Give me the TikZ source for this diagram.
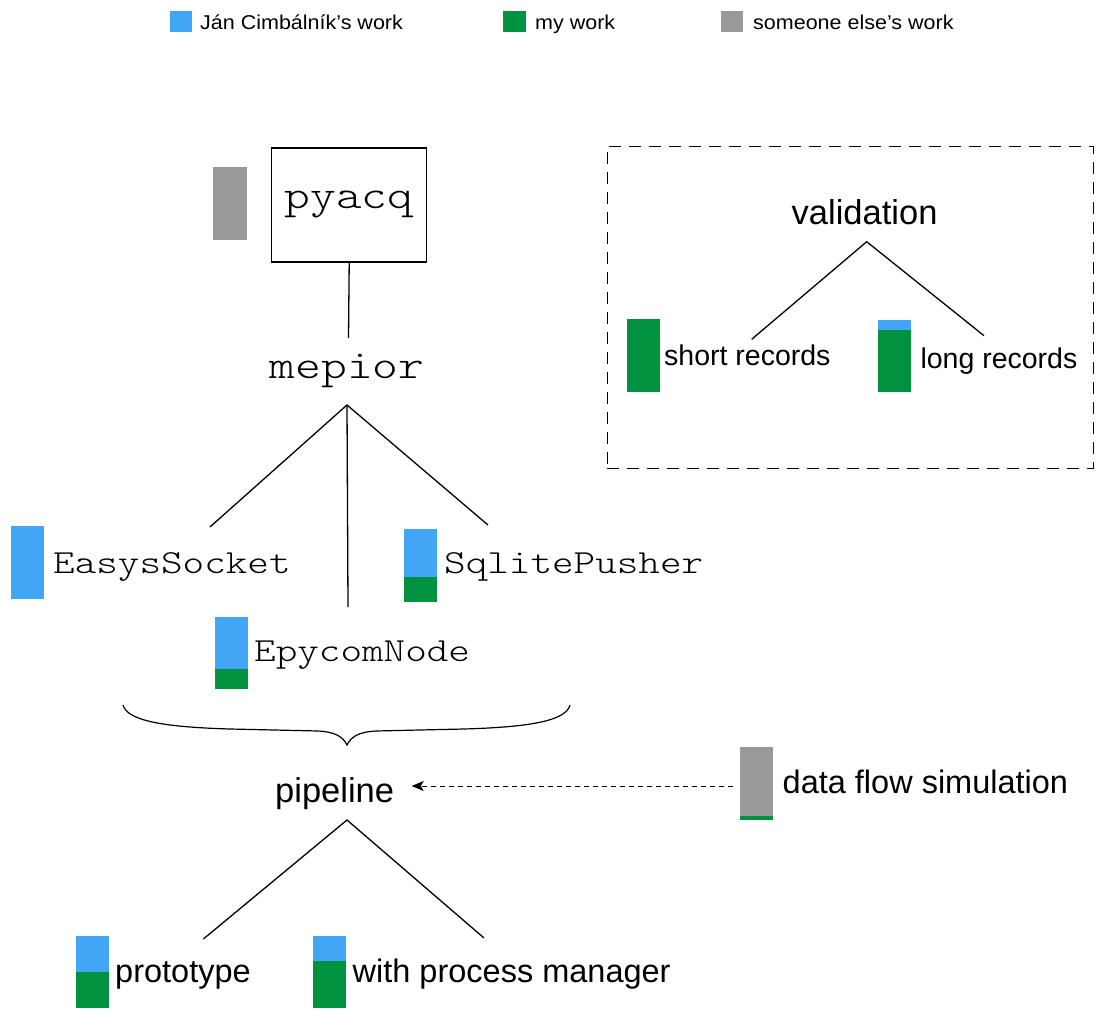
\documentclass[tikz,border=0pt]{standalone}
\usepackage{fontspec}
\setmainfont{Liberation Sans}
\setmonofont{Latin Modern Mono Light}[FakeStretch=1.22]
\usetikzlibrary{arrows.meta}

\definecolor{jcblue}{RGB}{66,165,245}
\definecolor{mygreen}{RGB}{0,146,63}
\definecolor{othergray}{RGB}{153,153,153}

\tikzset{
  treeline/.style={draw=black, line width=1.3pt},
  lbl/.style={inner sep=0pt, anchor=base west},
  legendtext/.style={lbl, font=\fontsize{21.5}{24}\selectfont},
  codebig/.style={inner sep=0pt, anchor=base, font=\ttfamily\fontsize{40.2}{46}\selectfont},
  codetext/.style={lbl, font=\ttfamily\fontsize{33.7}{40}\selectfont},
  sanslarge/.style={lbl, font=\fontsize{34.5}{40}\selectfont},
  sansmid/.style={lbl, font=\fontsize{32.5}{38}\selectfont},
  sanssmall/.style={lbl, font=\fontsize{28.5}{34}\selectfont},
  flowarrow/.style={draw=black, line width=1pt, dash pattern=on 5pt off 4pt,
    -{Stealth[length=12pt,width=10pt,inset=3pt]}},
}

\begin{document}
\begin{tikzpicture}[x=1pt,y=-1pt]
\useasboundingbox (0,0) rectangle (1096,1011);
\fill[white] (0,0) rectangle (1096,1011);

% ---- legend ----
\fill[jcblue] (170,10.7) rectangle (192.3,32.3);
\node[legendtext] (leg-jc) at (200,29.3) {\scalebox{1}[0.93]{Ján Cimbálník’s work}};
\fill[mygreen] (503.3,10.7) rectangle (525.7,32.3);
\node[legendtext] (leg-my) at (535,29.3) {\scalebox{1}[0.93]{my work}};
\fill[othergray] (720.7,10.7) rectangle (743,32.3);
\node[legendtext] (leg-other) at (753,29.3) {\scalebox{1}[0.93]{someone else’s work}};

% ---- pyacq / mepior ----
\fill[othergray] (213.3,167.3) rectangle (246.7,240);
\node[draw, line width=1.4pt, minimum width=155pt, minimum height=114pt,
      inner sep=0pt, anchor=north west] (pyacqbox) at (271,147.3) {};
\node[codebig] (pyacq) at (349,209) {pyacq};
\node[codebig] (mepior) at (347,378) {mepior};
\coordinate (mepior-in) at (348.5,338);
\draw[treeline] (pyacqbox.south) -- (mepior-in);

% mepior branches
\coordinate (mep-fork) at (347,405);
\coordinate (easys-in) at (210,527);
\coordinate (epycom-in) at (348,607);
\coordinate (sqlite-in) at (488,525);
\draw[treeline] (easys-in) -- (mep-fork) -- (sqlite-in);
\draw[treeline] (mep-fork) -- (epycom-in);

% EasysSocket
\fill[jcblue] (11,526) rectangle (44.3,598.7);
\node[codetext] (easys) at (53,573) {EasysSocket};
% SqlitePusher
\fill[jcblue] (403.8,529.3) rectangle (437,576.7);
\fill[mygreen] (403.8,576.7) rectangle (437,602.3);
\node[codetext] (sqlite) at (444,573) {SqlitePusher};
% EpycomNode
\fill[jcblue] (214.6,616.7) rectangle (248.3,669.3);
\fill[mygreen] (214.6,669.3) rectangle (248.3,689.3);
\node[codetext] (epycom) at (254,661) {EpycomNode};

% ---- brace gathering the three nodes ----
\coordinate (brace-l) at (123,705);
\coordinate (brace-tip) at (347,745);
\coordinate (brace-r) at (570,705);
\draw[treeline, line width=1.2pt] (brace-l)
  .. controls (127,720) and (160,727) .. (230,729) -- (318,731)
  .. controls (336,732) and (343,737) .. (brace-tip)
  .. controls (351,737) and (358,732) .. (376,731) -- (464,729)
  .. controls (534,727) and (566,720) .. (brace-r);

% ---- pipeline ----
\node[sanslarge] (pipeline) at (275,802) {pipeline};
\coordinate (pipeline-in) at (411.7,786);
\coordinate (dfs-out) at (733,786);
\draw[flowarrow] (dfs-out) -- (pipeline-in);

% data flow simulation
\fill[othergray] (740,746.7) rectangle (772.7,816);
\fill[mygreen] (740,816) rectangle (772.7,820);
\node[sansmid] (dfs) at (782.5,793) {data flow simulation};

% pipeline branches
\coordinate (pipe-fork) at (347,820);
\coordinate (proto-in) at (203.4,939);
\coordinate (pm-in) at (484,938);
\draw[treeline] (proto-in) -- (pipe-fork) -- (pm-in);

% prototype
\fill[jcblue] (76.4,935.7) rectangle (109.2,971.7);
\fill[mygreen] (76.4,971.7) rectangle (109.2,1008.3);
\node[sansmid] (proto) at (115,982) {prototype};
% with process manager
\fill[jcblue] (313,935.7) rectangle (346.4,961);
\fill[mygreen] (313,961) rectangle (346.4,1008.3);
\node[sansmid] (procman) at (352.5,982) {with process manager};

% ---- validation panel ----
\node[draw, line width=1.3pt, dash pattern=on 12pt off 8pt,
      minimum width=486pt, minimum height=322pt, inner sep=0pt,
      anchor=north west] (valbox) at (606.7,145.7) {};
\node[sanslarge] (validation) at (791.5,225) {validation};
\coordinate (val-fork) at (866.7,241.7);
\coordinate (short-in) at (751.7,339.3);
\coordinate (long-in) at (984,335.7);
\draw[treeline] (short-in) -- (val-fork) -- (long-in);

\fill[mygreen] (626.7,319) rectangle (660,392.3);
\node[sanssmall] (short) at (664,365) {short records};
\fill[jcblue] (878.3,320) rectangle (910.7,330);
\fill[mygreen] (878.3,330) rectangle (910.7,392.3);
\node[sanssmall] (long) at (920.3,368.3) {long records};

\end{tikzpicture}
\end{document}
